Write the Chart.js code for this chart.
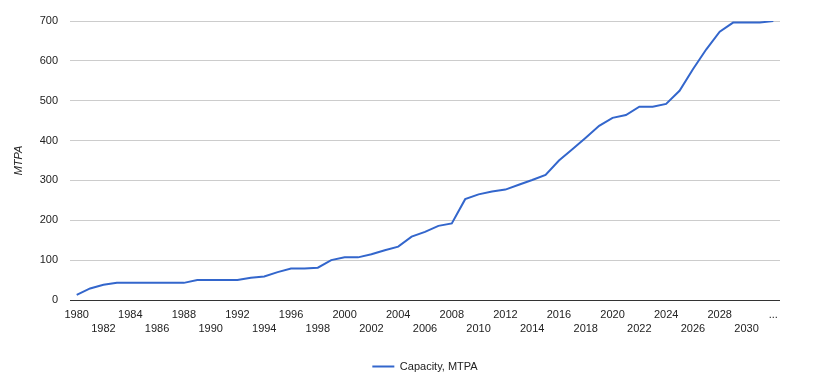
<!DOCTYPE html>
<html>
<head>
<meta charset="utf-8">
<script src="https://cdn.jsdelivr.net/npm/chart.js@4"></script>
<style>
  html, body { margin: 0; padding: 0; background: #fff; }
  #wrap { width: 815px; height: 386px; position: relative; }
</style>
</head>
<body>
<div id="wrap"><canvas id="c"></canvas></div>
<script>
const categories = ["1980","1981","1982","1983","1984","1985","1986","1987","1988","1989",
  "1990","1991","1992","1993","1994","1995","1996","1997","1998","1999",
  "2000","2001","2002","2003","2004","2005","2006","2007","2008","2009",
  "2010","2011","2012","2013","2014","2015","2016","2017","2018","2019",
  "2020","2021","2022","2023","2024","2025","2026","2027","2028","2029",
  "2030","2031","..."];
const capacity = [13,29,38,43,43,43,43,43,43,50,
  50,50,50,56,59,70,79,79,81,100,
  107,107,115,125,134,159,171,186,192,253,
  265,272,277,289,301,314,350,378,407,437,
  457,464,485,485,492,525,579,629,673,696,
  696,696,700];
const yTicks = [0,100,200,300,400,500,600,700];
const seriesName = "Capacity, MTPA";
const yTitle = "MTPA";

const FONT = "'Liberation Sans', Arial, sans-serif";
const TXT = '#222222';

new Chart(document.getElementById('c'), {
  type: 'line',
  data: {
    labels: categories,
    datasets: [{
      label: seriesName,
      data: capacity,
      borderColor: '#3366cc',
      backgroundColor: '#3366cc',
      borderWidth: 2,
      pointRadius: 0,
      pointHoverRadius: 0,
      tension: 0,
      fill: false
    }]
  },
  options: {
    responsive: true,
    maintainAspectRatio: false,
    animation: false,
    layout: { padding: { top: 21, right: 35, left: 0, bottom: 4 } },
    plugins: {
      tooltip: { enabled: false },
      legend: {
        position: 'bottom',
        fullSize: false,
        labels: {
          usePointStyle: true,
          pointStyle: 'line',
          pointStyleWidth: 22,
          boxHeight: 11,
          padding: 8,
          color: TXT,
          font: { family: FONT, size: 11 }
        }
      }
    },
    scales: {
      x: {
        type: 'category',
        offset: true,
        grid: { display: false, drawTicks: false },
        border: { display: false },
        afterFit: (s) => { s.height = 53; },
        ticks: {
          autoSkip: false,
          maxRotation: 0,
          minRotation: 0,
          padding: 8,
          color: TXT,
          font: { family: FONT, size: 11, lineHeight: 1.3 },
          callback: function(value, index) {
            const lab = categories[index];
            if (index % 4 === 0) return lab;
            if (index % 4 === 2) return ['', lab];
            return '';
          }
        }
      },
      y: {
        min: 0,
        max: 700,
        afterFit: (s) => { s.width = 70; },
        afterBuildTicks: (s) => { s.ticks = yTicks.map(v => ({ value: v })); },
        grid: {
          drawTicks: false,
          color: (ctx) => (ctx.tick && ctx.tick.value === 0) ? '#333333' : '#cccccc',
          lineWidth: 1
        },
        border: { display: false },
        ticks: {
          padding: 12,
          color: TXT,
          font: { family: FONT, size: 11 }
        },
        title: {
          display: true,
          text: yTitle,
          color: TXT,
          padding: 12,
          font: { family: FONT, size: 11, style: 'italic' }
        }
      }
    }
  }
});
</script>
</body>
</html>
